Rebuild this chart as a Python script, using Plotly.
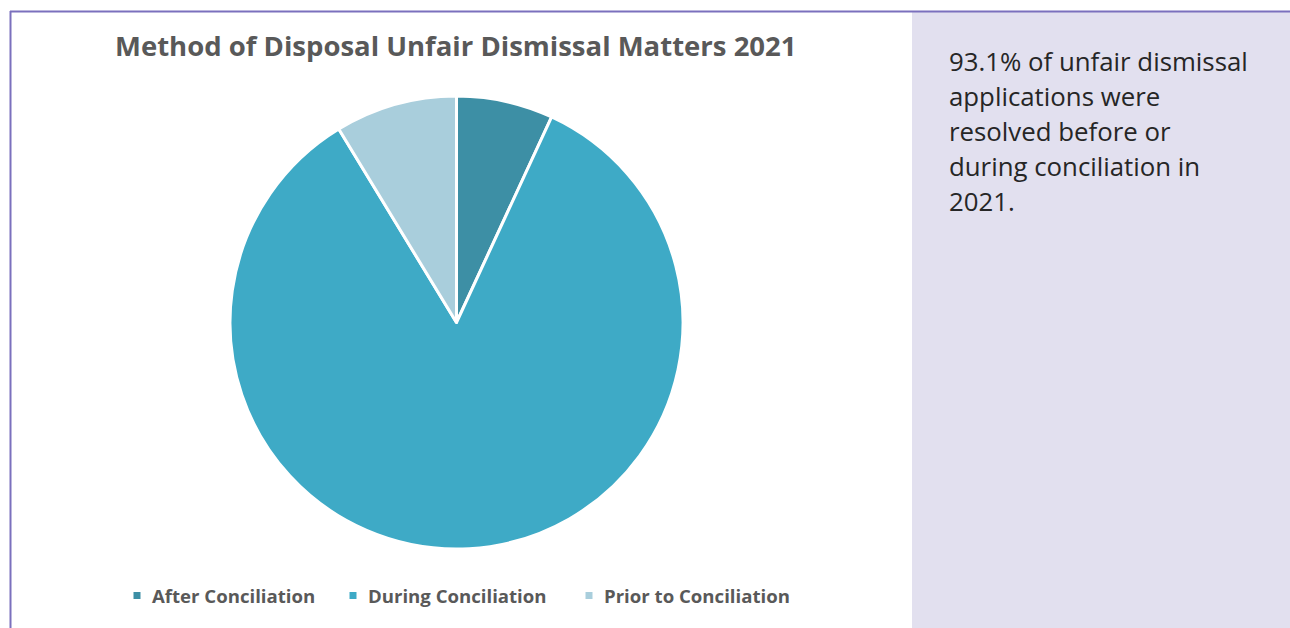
import plotly.graph_objects as go

# Method of disposal shares (%)
categories = ["After Conciliation", "During Conciliation", "Prior to Conciliation"]
shares = [6.9, 84.4, 8.7]
colors = ["#3d8fa5", "#3eaac6", "#a9cedc"]

note_lines = [
    "93.1% of unfair dismissal",
    "applications were",
    "resolved before or",
    "during conciliation in",
    "2021.",
]

W, H = 1290, 628
cx, cy, r = 456.5, 322.5, 226.5

fig = go.Figure(
    go.Pie(
        labels=categories,
        values=shares,
        sort=False,
        direction="clockwise",
        rotation=0,
        marker=dict(colors=colors, line=dict(color="white", width=3)),
        textinfo="none",
        hoverinfo="label+percent",
        showlegend=False,
        domain=dict(
            x=[(cx - r) / W, (cx + r) / W],
            y=[(H - cy - r) / H, (H - cy + r) / H],
        ),
    )
)

shapes = [
    # lavender side panel
    dict(type="rect", xref="paper", yref="paper", x0=912 / W, x1=1, y0=0, y1=(H - 12) / H,
         fillcolor="#e2e0ef", line=dict(width=0), layer="below"),
    # frame lines
    dict(type="line", xref="paper", yref="paper", x0=10 / W, x1=1, y0=(H - 11.5) / H, y1=(H - 11.5) / H,
         line=dict(color="#7b70bd", width=2)),
    dict(type="line", xref="paper", yref="paper", x0=10.5 / W, x1=10.5 / W, y0=0, y1=(H - 11) / H,
         line=dict(color="#7b70bd", width=2)),
]

annotations = [
    dict(text="<b>Method of Disposal Unfair Dismissal Matters 2021</b>", x=456 / W, y=(H - 46) / H,
         xref="paper", yref="paper", showarrow=False, xanchor="center", yanchor="middle",
         font=dict(family="Open Sans", size=27.5, color="#595959")),
]

# legend drawn as small squares with bold labels
legend_sq_x = [137, 353, 589]
for cat, col, sx in zip(categories, colors, legend_sq_x):
    shapes.append(dict(type="rect", xref="paper", yref="paper",
                       x0=(sx - 3.5) / W, x1=(sx + 3.5) / W,
                       y0=(H - 599) / H, y1=(H - 592) / H,
                       fillcolor=col, line=dict(width=0)))
    annotations.append(dict(text=f"<b>{cat}</b>", x=(sx + 13) / W, y=(H - 595) / H,
                            xref="paper", yref="paper", showarrow=False,
                            xanchor="left", yanchor="middle",
                            font=dict(family="Open Sans", size=18.6, color="#595959")))

for i, line in enumerate(note_lines):
    annotations.append(dict(text=line, x=947 / W, y=(H - 61 - 35 * i) / H,
                            xref="paper", yref="paper", showarrow=False,
                            xanchor="left", yanchor="middle",
                            font=dict(family="Open Sans", size=25.8, color="#262626")))

fig.update_layout(
    width=W, height=H,
    margin=dict(l=0, r=0, t=0, b=0),
    paper_bgcolor="white",
    plot_bgcolor="white",
    shapes=shapes,
    annotations=annotations,
)

fig.write_html("out.html")
